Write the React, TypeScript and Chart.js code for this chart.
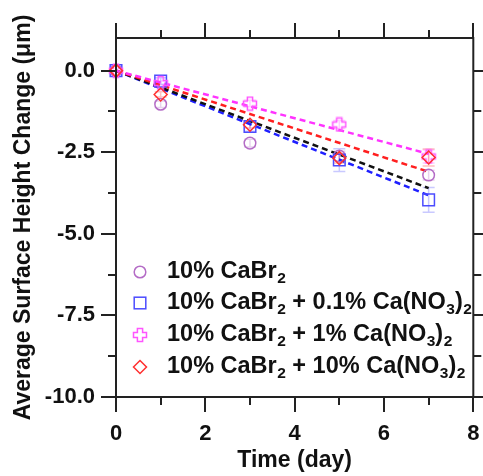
import React, { useEffect, useRef } from 'react';
import { Chart, registerables } from 'chart.js';
Chart.register(...registerables);

// ---- data ----
const days = [0, 1, 3, 5, 7];
const cabr2 = [0, -1.03, -2.22, -2.62, -3.2];
const cabr2Err = [0, 0.1, 0.12, 0.15, 0.15];
const no3p1 = [0, -0.32, -1.71, -2.74, -3.96];
const no3p1Err = [0, 0.1, 0.15, 0.35, 0.38];
const no3one = [0, -0.38, -1.01, -1.65, -2.63];
const no3oneErr = [0, 0.06, 0.1, 0.12, 0.2];
const no3ten = [0, -0.73, -1.66, -2.68, -2.66];
const no3tenErr = [0, 0.08, 0.1, 0.15, 0.26];

const fitX = [0, 7];
const fitCabr2 = [0, -3.6];
const fitNo3p1 = [0, -3.82];
const fitNo3one = [0, -2.55];
const fitNo3ten = [0, -3.1];

const xTicks = [0, 2, 4, 6, 8];
const xMinor = [1, 3, 5, 7];
const yTicks = [0, -2.5, -5, -7.5, -10];
const yMinor = [-1.25, -3.75, -6.25, -8.75];

const legendLabels = [
  '10% CaBr_2',
  '10% CaBr_2 + 0.1% Ca(NO_3)_2',
  '10% CaBr_2 + 1% Ca(NO_3)_2',
  '10% CaBr_2 + 10% Ca(NO_3)_2',
];

const FONT = "'Liberation Sans', Arial, sans-serif";
const C_CIRCLE = '#b46cc6';
const C_SQUARE = '#4c4cff';
const C_PLUS = '#ff55ff';
const C_DIAMOND = '#ff3030';

function makePlus(color: string): HTMLCanvasElement {
  const c = document.createElement('canvas');
  c.width = 16;
  c.height = 16;
  const g = c.getContext('2d')!;
  const a = 2.6, L = 6.5, cx = 8, cy = 8;
  const pts = [
    [-a, -L], [a, -L], [a, -a], [L, -a], [L, a], [a, a],
    [a, L], [-a, L], [-a, a], [-L, a], [-L, -a], [-a, -a],
  ];
  g.beginPath();
  pts.forEach(([x, y], i) => (i ? g.lineTo(cx + x, cy + y) : g.moveTo(cx + x, cy + y)));
  g.closePath();
  g.strokeStyle = color;
  g.lineWidth = 1.5;
  g.stroke();
  return c;
}

function pts(xs: number[], ys: number[]) {
  return xs.map((x, i) => ({ x, y: ys[i] }));
}

function drawRich(ctx: CanvasRenderingContext2D, text: string, x: number, y: number) {
  const parts = text.split(/(_\w)/).filter((p) => p.length);
  let cx = x;
  for (const p of parts) {
    if (p.startsWith('_')) {
      ctx.font = `bold 15.5px ${FONT}`;
      ctx.fillText(p.slice(1), cx + 0.5, y + 7);
      cx += ctx.measureText(p.slice(1)).width + 0.5;
    } else {
      ctx.font = `bold 23.5px ${FONT}`;
      ctx.fillText(p, cx, y);
      cx += ctx.measureText(p).width;
    }
  }
}

export default function App() {
  const ref = useRef<HTMLCanvasElement>(null);
  useEffect(() => {
    const plusImg = makePlus(C_PLUS);
    const errSets: { data: number[]; err: number[]; color: string }[] = [
      { data: cabr2, err: cabr2Err, color: 'rgba(180,108,198,0.3)' },
      { data: no3p1, err: no3p1Err, color: 'rgba(76,76,255,0.3)' },
      { data: no3one, err: no3oneErr, color: 'rgba(255,85,255,0.3)' },
      { data: no3ten, err: no3tenErr, color: 'rgba(255,48,48,0.3)' },
    ];

    const framePlugin = {
      id: 'frame',
      beforeDatasetsDraw(chart: any) {
        const { ctx, scales } = chart;
        const xs = scales.x, ys = scales.y;
        ctx.save();
        ctx.lineWidth = 1.5;
        for (const s of errSets) {
          ctx.strokeStyle = s.color;
          days.forEach((d, i) => {
            if (!s.err[i]) return;
            const px = xs.getPixelForValue(d);
            const y1 = ys.getPixelForValue(s.data[i] + s.err[i]);
            const y2 = ys.getPixelForValue(s.data[i] - s.err[i]);
            ctx.beginPath();
            ctx.moveTo(px, y1); ctx.lineTo(px, y2);
            ctx.moveTo(px - 6, y1); ctx.lineTo(px + 6, y1);
            ctx.moveTo(px - 6, y2); ctx.lineTo(px + 6, y2);
            ctx.stroke();
          });
        }
        ctx.restore();
      },
      afterDraw(chart: any) {
        const { ctx, chartArea: a, scales } = chart;
        const xs = scales.x, ys = scales.y;
        ctx.save();
        ctx.strokeStyle = '#222';
        ctx.lineWidth = 2;
        ctx.strokeRect(a.left, a.top, a.right - a.left, a.bottom - a.top);
        const major = 15, minor = 8;
        ctx.beginPath();
        const xt = (v: number, len: number) => {
          const p = Math.round(xs.getPixelForValue(v));
          ctx.moveTo(p, a.bottom); ctx.lineTo(p, a.bottom + len);
          ctx.moveTo(p, a.top); ctx.lineTo(p, a.top - len);
        };
        const yt = (v: number, len: number) => {
          const p = Math.round(ys.getPixelForValue(v));
          ctx.moveTo(a.left, p); ctx.lineTo(a.left - len, p);
          ctx.moveTo(a.right, p); ctx.lineTo(a.right + len, p);
        };
        xTicks.forEach((v) => xt(v, major));
        xMinor.forEach((v) => xt(v, minor));
        yTicks.forEach((v) => yt(v, major));
        yMinor.forEach((v) => yt(v, minor));
        ctx.stroke();

        // legend
        const lx = 140, tx = 167;
        const rows = [272, 303, 335, 367];
        ctx.lineWidth = 1.5;
        ctx.strokeStyle = C_CIRCLE;
        ctx.beginPath(); ctx.arc(lx, rows[0], 5.8, 0, Math.PI * 2); ctx.stroke();
        ctx.strokeStyle = C_SQUARE;
        ctx.strokeRect(lx - 5.8, rows[1] - 5.8, 11.6, 11.6);
        ctx.drawImage(plusImg, lx - 8, rows[2] - 8);
        ctx.strokeStyle = C_DIAMOND;
        ctx.beginPath();
        ctx.moveTo(lx, rows[3] - 6.5); ctx.lineTo(lx + 6.5, rows[3]);
        ctx.lineTo(lx, rows[3] + 6.5); ctx.lineTo(lx - 6.5, rows[3]); ctx.closePath();
        ctx.stroke();
        ctx.fillStyle = '#111';
        ctx.textBaseline = 'middle';
        ctx.textAlign = 'left';
        legendLabels.forEach((t, i) => drawRich(ctx, t, tx, rows[i]));
        ctx.restore();
      },
    };

    const fitLine = (ys: number[], color: string) => ({
      type: 'line' as const,
      data: pts(fitX, ys),
      borderColor: color,
      borderWidth: 2.5,
      borderDash: [6, 4],
      pointRadius: 0,
      showLine: true,
      fill: false,
      clip: false as any,
    });
    const marker = (ys: number[], color: string, style: any, r: number) => ({
      type: 'scatter' as const,
      data: pts(days, ys),
      borderColor: color,
      backgroundColor: 'rgba(0,0,0,0)',
      pointStyle: style,
      pointRadius: r,
      pointBorderWidth: 1.5,
      clip: false as any,
    });

    const tickFont = { family: FONT, size: 22, weight: 'bold' };
    const titleFont = { family: FONT, size: 23, weight: 'bold' };

    const chart = new Chart(ref.current!, {
      type: 'scatter',
      data: {
        datasets: [
          marker(no3ten, C_DIAMOND, 'rectRot', 6.5),
          marker(no3one, C_PLUS, plusImg, 8),
          marker(no3p1, C_SQUARE, 'rect', 8.2),
          marker(cabr2, C_CIRCLE, 'circle', 5.8),
          fitLine(fitNo3one, '#ff33ff'),
          fitLine(fitNo3ten, '#ff1f1f'),
          fitLine(fitCabr2, '#111111'),
          fitLine(fitNo3p1, '#1f1fff'),
        ] as any,
      },
      options: {
        animation: false,
        responsive: false,
        devicePixelRatio: 1,
        layout: { padding: { top: 38, right: 7, left: 0, bottom: 0 } },
        plugins: { legend: { display: false }, tooltip: { enabled: false } },
        scales: {
          x: {
            type: 'linear',
            position: 'bottom',
            min: 0,
            max: 8,
            afterBuildTicks: (s: any) => { s.ticks = xTicks.map((v) => ({ value: v })); },
            afterFit: (s: any) => { s.height = 79; s.paddingLeft = 0; s.paddingRight = 0; },
            grid: { display: false, drawTicks: false },
            border: { display: false },
            ticks: { color: '#111', font: tickFont, padding: 24, maxRotation: 0, callback: (v: any) => String(v) },
            title: { display: true, text: 'Time (day)', color: '#111', font: titleFont, padding: { top: 0, bottom: 2 } },
          },
          y: {
            type: 'linear',
            position: 'left',
            min: -10,
            max: 1,
            afterBuildTicks: (s: any) => { s.ticks = yTicks.map((v) => ({ value: v })); },
            afterFit: (s: any) => { s.width = 116; s.paddingTop = 0; s.paddingBottom = 0; },
            grid: { display: false, drawTicks: false },
            border: { display: false },
            ticks: { color: '#111', font: tickFont, padding: 21, callback: (v: any) => Number(v).toFixed(1) },
            title: { display: true, text: 'Average Surface Height Change (μm)', color: '#111', font: titleFont, padding: { top: 10, bottom: 0 } },
          },
        },
      } as any,
      plugins: [framePlugin],
    });
    return () => chart.destroy();
  }, []);

  return (
    <div style={{ position: 'fixed', left: 0, top: 0, width: 483, height: 476, background: '#fff' }}>
      <canvas ref={ref} width={483} height={476} />
    </div>
  );
}
